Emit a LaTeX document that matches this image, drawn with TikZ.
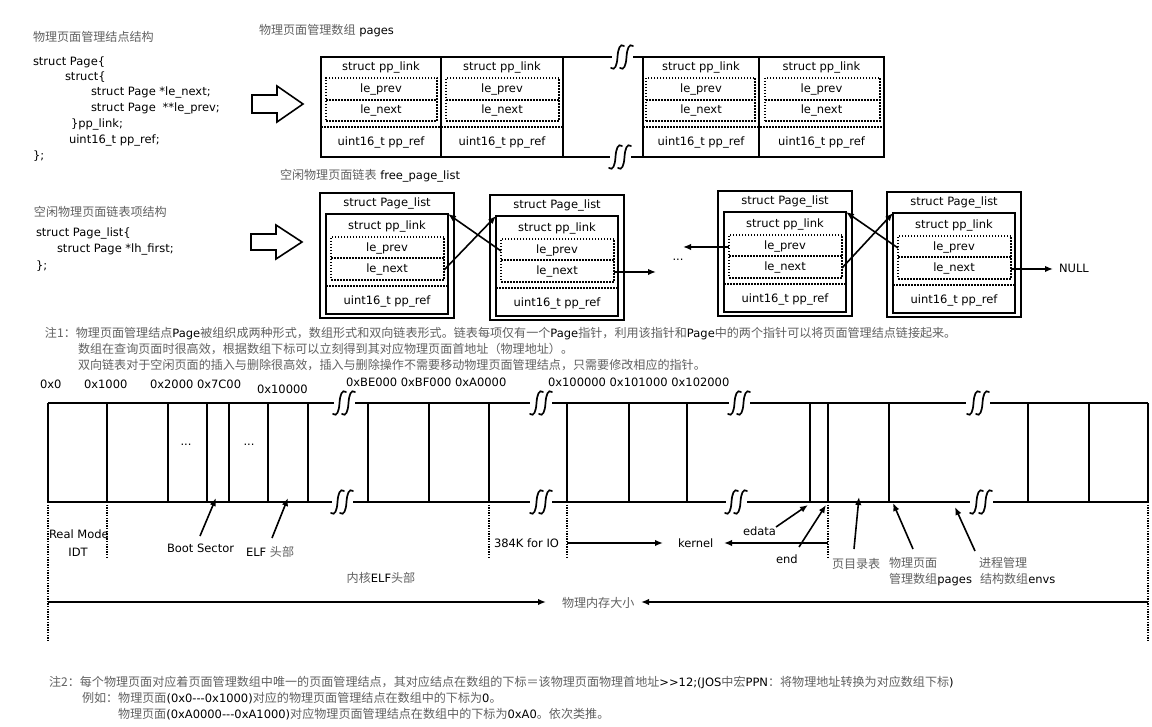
\documentclass[tikz,border=0pt]{standalone}
\usepackage{fontspec}
\setmainfont{DejaVu Sans}
\newfontfamily\cjkf{Noto Sans CJK SC}[Scale=1.05]
\usetikzlibrary{arrows.meta}
\definecolor{zhgray}{gray}{0.38}
\newcommand\zh[1]{{\cjkf\color{zhgray}#1}}
% top array cell: name, left, right, dotted left, dotted right
\newcommand\arrcell[5]{%
  \node[cellbox, anchor=north west, minimum width={#3-#2}, minimum height=100] (#1) at (#2,57) {};
  \node[lbl] (#1l) at ({(#2+#3)/2},71) {struct pp\_link};
  \node[dotbox, anchor=north west, minimum width={#5-#4}, minimum height=43] (#1d) at (#4,78) {};
  \draw[dotline] (#4,100) -- (#5,100);
  \node[lbl] (#1p) at ({(#2+#3)/2},93) {le\_prev};
  \node[lbl] (#1n) at ({(#2+#3)/2},114) {le\_next};
  \node[lbl] (#1r) at ({(#2+#3)/2},146) {uint16\_t pp\_ref};
}
% free list box: name, X, Y
\newcommand\flbox[3]{%
  \node[cellbox, anchor=north west, minimum width=134, minimum height=125] (#1o) at (#2,#3) {};
  \node[cellbox, anchor=north west, minimum width=122, minimum height=100] (#1i) at (#2+6,#3+21) {};
  \node[lbl] (#1t) at (#2+67,#3+14) {struct Page\_list};
  \node[lbl] (#1l) at (#2+67,#3+37) {struct pp\_link};
  \node[dotbox, anchor=north west, minimum width=113, minimum height=43] (#1d) at (#2+11,#3+44) {};
  \draw[dotline] (#2+11,#3+65) -- (#2+124,#3+65);
  \node[lbl] (#1p) at (#2+67,#3+59) {le\_prev};
  \node[lbl] (#1n) at (#2+67,#3+80) {le\_next};
  \draw[dotline] (#2+6,#3+93) -- (#2+128,#3+93);
  \node[lbl] (#1r) at (#2+67,#3+112) {uint16\_t pp\_ref};
}
\begin{document}
\begin{tikzpicture}[x=1pt,y=-1pt,
  font=\fontsize{11.5}{13.5}\selectfont,
  lbl/.style={inner sep=0pt, outer sep=0pt, anchor=base},
  tx/.style={inner sep=0pt, outer sep=0pt, anchor=base west},
  cellbox/.style={draw, line width=1.8pt, inner sep=0pt, outer sep=0pt},
  dotbox/.style={draw, line width=1.5pt, dash pattern=on 1.5pt off 1.5pt, inner sep=0pt, outer sep=0pt},
  dotline/.style={line width=1.5pt, dash pattern=on 1.5pt off 1.5pt},
  vdot/.style={line width=1.3pt, dash pattern=on 1.3pt off 1.3pt},
  bar/.style={line width=1.8pt},
  arr/.style={line width=1.6pt, -{Latex[length=8pt,width=6.5pt]}},
  hollow/.style={line width=1.6pt},
  brk/.pic={
    \draw[line width=1.7pt, line cap=round] (-11,11) .. controls (-7,14) and (-5,8) .. (-4.5,0) .. controls (-4,-8) and (-2,-14) .. (2,-11);
    \draw[line width=1.7pt, line cap=round] (-2,11) .. controls (2,14) and (4,8) .. (4.5,0) .. controls (5,-8) and (7,-14) .. (11,-11);
  }
]
\fill[white] (0,0) rectangle (1152,727);
\useasboundingbox (0,0) rectangle (1152,727);

% ---------- left code: Page ----------
\node[tx] (t1) at (33,42) {\zh{物理页面管理结点结构}};
\node[tx] (p1) at (33,66) {struct Page\{};
\node[tx] (p2) at (65,81) {struct\{};
\node[tx] (p3) at (91,96) {struct Page *le\_next;};
\node[tx] (p4) at (91,112) {struct Page\hspace{0.6em}**le\_prev;};
\node[tx] (p5) at (71,128) {\}pp\_link;};
\node[tx] (p6) at (69,144) {uint16\_t pp\_ref;};
\node[tx] (p7) at (33,160) {\};};

\draw[hollow] (252,95) -- (277,95) -- (277,86) -- (303,104) -- (277,122) -- (277,113) -- (252,113) -- cycle;

% ---------- top array ----------
\node[tx] (t2) at (259,35) {\zh{物理页面管理数组} pages};
\arrcell{c1}{321}{441}{326}{437}
\arrcell{c2}{441}{563}{446}{559}
\arrcell{c3}{643}{759}{646}{755}
\arrcell{c4}{759}{884}{765}{880}
\draw[dotline] (321,127) -- (563,127);
\draw[dotline] (643,127) -- (884,127);
\draw[bar] (c2.north east) -- (612,57);
\draw[bar] (633,57) -- (c3.north west);
\draw[bar] (c2.south east) -- (610,157);
\draw[bar] (631,157) -- (c3.south west);
\pic at (622,57) {brk};
\pic at (620,157) {brk};

% ---------- left code: Page_list ----------
\node[tx] (t3) at (280,180) {\zh{空闲物理页面链表} free\_page\_list};
\node[tx] (t4) at (34,217) {\zh{空闲物理页面链表项结构}};
\node[tx] (q1) at (36,237) {struct Page\_list\{};
\node[tx] (q2) at (57,253) {struct Page *lh\_first;};
\node[tx] (q3) at (36,270) {\};};

\draw[hollow] (251,234) -- (276,234) -- (276,225) -- (302,242) -- (276,259) -- (276,250) -- (251,250) -- cycle;

% ---------- free list ----------
\flbox{b1}{320}{193}
\flbox{b2}{490}{195}
\flbox{b3}{718}{191}
\flbox{b4}{887}{192}
\node[lbl] (dots) at (678,261) {...};
\node[tx] (nul) at (1059,273) {NULL};
\coordinate (dotsR) at (656,0);
\coordinate (dotsL) at (683,0);
\draw[arr] (b1n -| b1d.east) -- (b2i.north west);
\draw[arr] (b2p -| b2d.west) -- (b1i.north east);
\draw[arr] (b2n -| b2d.east) -- (b2n -| dotsR);
\draw[arr] (b3p -| b3d.west) -- (b3p -| dotsL);
\draw[arr] (b3n -| b3d.east) -- (b4i.north west);
\draw[arr] (b4p -| b4d.west) -- (b3i.north east);
\draw[arr, shorten >=6pt] (b4n -| b4d.east) -- (b4n -| nul.west);

% ---------- note 1 ----------
\node[tx] (n1a) at (45,338) {\zh{注1：物理页面管理结点}Page\zh{被组织成两种形式，数组形式和双向链表形式。链表每项仅有一个}Page\zh{指针，利用该指针和}Page\zh{中的两个指针可以将页面管理结点链接起来。}};
\node[tx] (n1b) at (78,354) {\zh{数组在查询页面时很高效，根据数组下标可以立刻得到其对应物理页面首地址（物理地址）。}};
\node[tx] (n1c) at (78,370) {\zh{双向链表对于空闲页面的插入与删除很高效，插入与删除操作不需要移动物理页面管理结点，只需要修改相应的指针。}};

% ---------- memory map ----------
\node[tx] (h1) at (40,389) {0x0};
\node[tx] (h2) at (84,389) {0x1000};
\node[tx] (h3) at (150,389) {0x2000 0x7C00};
\node[tx] (h4) at (257,394) {0x10000};
\node[tx] (h5) at (346,387) {0xBE000 0xBF000 0xA0000};
\node[tx] (h6) at (548,387) {0x100000 0x101000 0x102000};

% top line
\draw[bar] (48,403) -- (334,403);
\draw[bar] (355,403) -- (530,403);
\draw[bar] (552,403) -- (729,403);
\draw[bar] (750,403) -- (966,403);
\draw[bar] (990,403) -- (1148,403);
% bottom line
\draw[bar] (48,502) -- (332,502);
\draw[bar] (353,502) -- (530,502);
\draw[bar] (552,502) -- (726,502);
\draw[bar] (747,502) -- (970,502);
\draw[bar] (993,502) -- (1148,502);
\pic at (344,403) {brk};
\pic at (541,403) {brk};
\pic at (739,403) {brk};
\pic at (978,403) {brk};
\pic at (342,502) {brk};
\pic at (541,502) {brk};
\pic at (736,502) {brk};
\pic at (981,502) {brk};
\foreach \xx in {48,107,168,207,229,268,308,368,429,489,567,629,687,810,828,889,1028,1089,1148}
  \draw[bar] (\xx,403) -- (\xx,502);
\node[lbl] (e1) at (186,445) {...};
\node[lbl] (e2) at (249,445) {...};

% dotted verticals
\draw[vdot] (48,502) -- (48,642);
\draw[vdot] (1148,502) -- (1148,642);
\foreach \xx in {107,489,567,828}
  \draw[vdot] (\xx,502) -- (\xx,558);

% labels
\node[tx] (rm) at (49,538) {Real Mode};
\node[lbl] (idt) at (78,556) {IDT};
\node[tx] (bs) at (167,552) {Boot Sector};
\node[tx] (elf) at (246,556) {ELF \zh{头部}};
\node[tx] (io) at (494,547) {384K for IO};
\node[tx] (kern) at (678,547) {kernel};
\node[tx] (ed) at (743,535) {edata};
\node[tx] (en) at (776,563) {end};
\node[tx] (pd) at (832,568) {\zh{页目录表}};
\node[tx] (pg1) at (889,567) {\zh{物理页面}};
\node[tx] (pg2) at (889,583) {\zh{管理数组}pages};
\node[tx] (ev1) at (979,567) {\zh{进程管理}};
\node[tx] (ev2) at (980,583) {\zh{结构数组}envs};
\node[lbl] (kelf) at (381,582) {\zh{内核}ELF\zh{头部}};
\node[tx] (mem) at (562,607) {\zh{物理内存大小}};

\coordinate (bsA) at (200,536); \coordinate (bsB) at (216,498);
\coordinate (elA) at (272,538); \coordinate (elB) at (288,498);
\coordinate (ioA) at (567,543); \coordinate (ioB) at (663,543);
\coordinate (kA) at (828,543); \coordinate (kB) at (724,543);
\coordinate (edA) at (776,527); \coordinate (edB) at (808,505);
\coordinate (enA) at (799,547); \coordinate (enB) at (826,505);
\coordinate (pdA) at (854,549); \coordinate (pdB) at (859,497);
\coordinate (pgA) at (913,549); \coordinate (pgB) at (893,503);
\coordinate (evA) at (975,551); \coordinate (evB) at (955,507);
\coordinate (mL) at (48,602); \coordinate (mLt) at (546,602);
\coordinate (mR) at (1148,602); \coordinate (mRt) at (641,602);
\draw[arr] (bsA) -- (bsB);
\draw[arr] (elA) -- (elB);
\draw[arr] (ioA) -- (ioB);
\draw[arr] (kA) -- (kB);
\draw[arr] (edA) -- (edB);
\draw[arr] (enA) -- (enB);
\draw[arr] (pdA) -- (pdB);
\draw[arr] (pgA) -- (pgB);
\draw[arr] (evA) -- (evB);
\draw[arr] (mL) -- (mLt);
\draw[arr] (mR) -- (mRt);

% ---------- note 2 ----------
\node[tx] (n2a) at (49,686) {\zh{注2：每个物理页面对应着页面管理数组中唯一的页面管理结点，其对应结点在数组的下标＝该物理页面物理首地址}>{}>12;(JOS\zh{中宏}PPN\zh{：将物理地址转换为对应数组下标})};
\node[tx] (n2b) at (82,702) {\zh{例如：物理页面}(0x0-{}-{}-0x1000)\zh{对应的物理页面管理结点在数组中的下标为}0\zh{。}};
\node[tx] (n2c) at (118,718) {\zh{物理页面}(0xA0000-{}-{}-0xA1000)\zh{对应物理页面管理结点在数组中的下标为}0xA0\zh{。依次类推。}};
\end{tikzpicture}
\end{document}
